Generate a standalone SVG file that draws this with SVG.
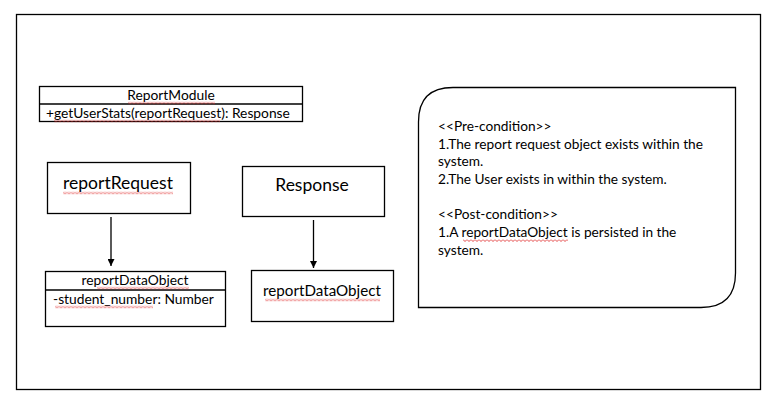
<svg xmlns="http://www.w3.org/2000/svg" width="769" height="403" viewBox="0 0 769 403">
<style>
.box{fill:#fff;stroke:#000;stroke-width:1.3}
.ln{stroke:#000;stroke-width:1.3;fill:none}
text{font-family:Lato,"Liberation Sans",sans-serif;fill:#000}
.s13{font-size:13.8px}
.s17{font-size:17.5px}
.nt{font-size:13.7px}
.sq{fill:url(#sq)}
</style>
<defs>
<pattern id="sq" width="4" height="3" patternUnits="userSpaceOnUse">
<path d="M0,0.5 L2,2.5 L4,0.5" fill="none" stroke="#e03030" stroke-width="0.9"/>
</pattern>
<marker id="ah" viewBox="0 0 10 10" refX="10" refY="5" markerWidth="7" markerHeight="7" markerUnits="userSpaceOnUse" orient="auto">
<path d="M0,0 L10,5 L0,10 Z" fill="#000"/>
</marker>
</defs>
<rect x="0" y="0" width="769" height="403" fill="#fff"/>
<rect x="16.5" y="14.5" width="744" height="375" class="box"/>

<g id="ReportModule">
<rect x="39.5" y="86.5" width="263" height="35" class="box"/>
<line x1="39.5" y1="104" x2="302.5" y2="104" class="ln"/>
<text x="171" y="100" text-anchor="middle" class="s13">ReportModule</text>
<text x="46" y="118" class="s13">+getUserStats(reportRequest): Response</text>
<rect transform="translate(128,101.5)" width="87" height="3" class="sq"/>
<rect transform="translate(54,119.5)" width="166" height="3" class="sq"/>
</g>

<g id="reportRequest">
<rect x="47.5" y="162.5" width="143" height="51" class="box"/>
<text x="118" y="189" text-anchor="middle" class="s17">reportRequest</text>
<rect transform="translate(63,191.5)" width="110" height="3" class="sq"/>
</g>

<g id="Response">
<rect x="242.5" y="166.5" width="142" height="50" class="box"/>
<text x="312" y="191" text-anchor="middle" class="s17">Response</text>
</g>

<g id="reportDataObject1">
<rect x="45.5" y="271.5" width="180" height="55" class="box"/>
<line x1="45.5" y1="290" x2="225.5" y2="290" class="ln"/>
<text x="135" y="285" text-anchor="middle" class="s13">reportDataObject</text>
<text x="53" y="304" class="s13">-student_number: Number</text>
<rect transform="translate(97,286.5)" width="92" height="3" class="sq"/>
<rect transform="translate(55,305.5)" width="98" height="3" class="sq"/>
</g>

<g id="reportDataObject2">
<rect x="251.5" y="270.5" width="142" height="51" class="box"/>
<text x="322" y="296" text-anchor="middle" class="s13" style="font-size:15.2px">reportDataObject</text>
<rect transform="translate(265,298.5)" width="115" height="3" class="sq"/>
</g>

<g id="note">
<path d="M418.5,307.5 L418.5,122 Q418.5,87.5 453,87.5 L735.5,87.5 L735.5,273 Q735.5,307.5 701,307.5 Z" class="box"/>
<text class="nt" x="438" y="131">&lt;&lt;Pre-condition&gt;&gt;</text>
<text class="nt" x="438" y="148.5">1.The report request object exists within the</text>
<text class="nt" x="438" y="166">system.</text>
<text class="nt" x="438" y="183.5">2.The User exists in within the system.</text>
<text class="nt" x="438" y="219">&lt;&lt;Post-condition&gt;&gt;</text>
<text class="nt" x="438" y="237">1.A reportDataObject is persisted in the</text>
<text class="nt" x="438" y="254.5">system.</text>
<rect transform="translate(463,239)" width="105" height="3" class="sq"/>
</g>

<g id="connectors">
<line x1="111" y1="217" x2="111" y2="266" class="ln" marker-end="url(#ah)"/>
<line x1="313.5" y1="220" x2="313.5" y2="268" class="ln" marker-end="url(#ah)"/>
</g>
</svg>
